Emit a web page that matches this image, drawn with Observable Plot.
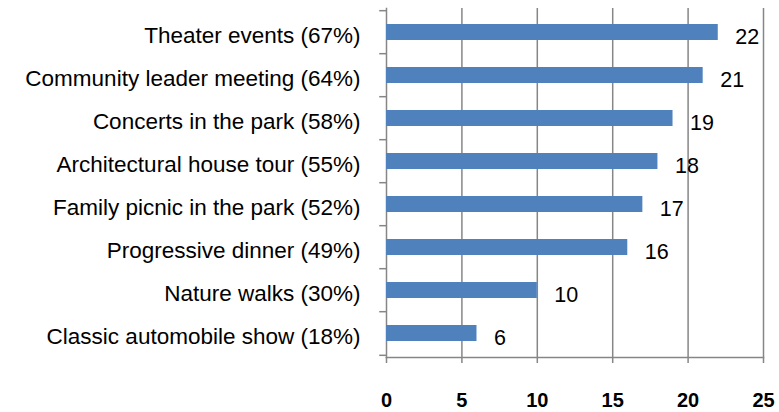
<!DOCTYPE html>
<html><head><meta charset="utf-8">
<script src="https://cdn.jsdelivr.net/npm/d3@7"></script>
<script src="https://cdn.jsdelivr.net/npm/@observablehq/plot@0.6"></script>
<style>body{margin:0;background:#fff}</style>
</head><body><div id="chart"></div>
<script>
const categories = [
  "Theater events (67%)",
  "Community leader meeting (64%)",
  "Concerts in the park (58%)",
  "Architectural house tour (55%)",
  "Family picnic in the park (52%)",
  "Progressive dinner (49%)",
  "Nature walks (30%)",
  "Classic automobile show (18%)"
];
const counts = [22, 21, 19, 18, 17, 16, 10, 6];
const xTicks = [0, 5, 10, 15, 20, 25];

const data = categories.map((c, i) => ({category: c, count: counts[i]}));
const W = 779, H = 412, mT = 8, mB = 55;
const step = (H - mT - mB) / categories.length;
const gray = "#868686";

const plot = Plot.plot({
  width: W, height: H,
  marginLeft: 386, marginRight: 16, marginTop: mT, marginBottom: mB,
  style: {fontFamily: "Liberation Sans, Arial, sans-serif", background: "#fff", color: "#000", overflow: "visible"},
  x: {domain: [0, 25], ticks: xTicks, label: null},
  y: {domain: categories, paddingInner: 0.63, paddingOuter: 0.315, axis: null, label: null},
  marks: [
    Plot.ruleX(xTicks.slice(1), {stroke: gray, strokeWidth: 1.5}),
    Plot.frame({anchor: "left", stroke: gray, strokeWidth: 1.5}),
    Plot.frame({anchor: "bottom", stroke: gray, strokeWidth: 1.5}),
    Plot.ruleY(categories, {y: d => d, x1: -0.45, x2: 0, dy: -step / 2, stroke: gray, strokeWidth: 1.5}),
    Plot.ruleY(categories.slice(-1), {y: d => d, x1: -0.45, x2: 0, dy: step / 2, stroke: gray, strokeWidth: 1.5}),
    Plot.axisX({ticks: xTicks, tickSize: 6, tickFormat: () => "", label: null, stroke: gray, strokeWidth: 1.5}),
    Plot.axisX({ticks: xTicks, tickSize: 0, tickPadding: 35, label: null, fontWeight: "bold", fontSize: 20, fill: "#000"}),
    Plot.barX(data, {y: "category", x: "count", fill: "#4F81BD"}),
    Plot.text(data, {y: "category", text: "category", frameAnchor: "left", textAnchor: "end", dx: -26, dy: 3.5, fontSize: 22.5, fill: "#000"}),
    Plot.text(data, {x: "count", y: "category", text: d => String(d.count), textAnchor: "start", dx: 17, dy: 4.5, fontSize: 21.5, fill: "#000"})
  ]
});
document.getElementById("chart").appendChild(plot);
</script>
</body></html>
